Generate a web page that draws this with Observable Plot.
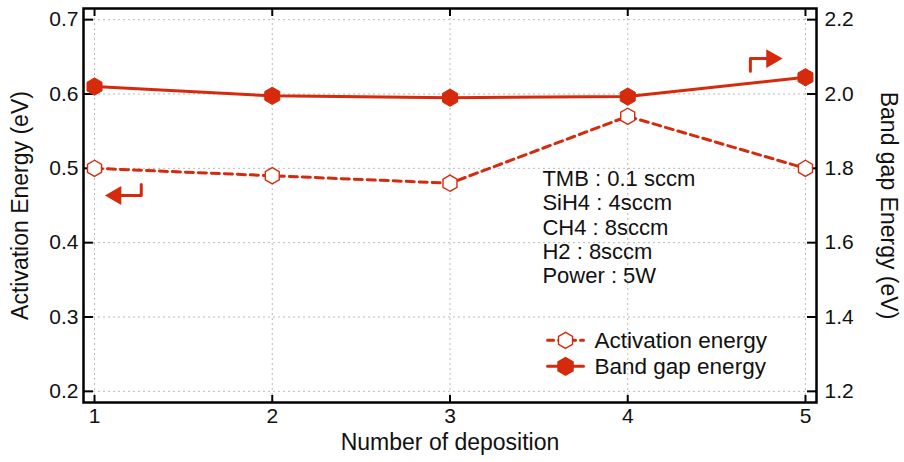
<!DOCTYPE html>
<html>
<head>
<meta charset="utf-8">
<script src="https://cdn.jsdelivr.net/npm/d3@7"></script>
<script src="https://cdn.jsdelivr.net/npm/@observablehq/plot@0.6"></script>
<style>
  html, body { margin: 0; padding: 0; background: #fff; }
  #chart svg { display: block; }
</style>
</head>
<body>
<div id="chart"></div>
<script>
// Data
const deposition = [1, 2, 3, 4, 5];
const activationEnergy = [0.50, 0.49, 0.48, 0.57, 0.50];      // eV, left axis
const bandGapEnergy = [2.020, 1.995, 1.990, 1.993, 2.045];      // eV, right axis
const leftTicks = [0.2, 0.3, 0.4, 0.5, 0.6, 0.7];
const rightTicks = [1.2, 1.4, 1.6, 1.8, 2.0, 2.2];
const conditions = ["TMB : 0.1 sccm", "SiH4 : 4sccm", "CH4 : 8sccm", "H2 : 8sccm", "Power : 5W"];
const seriesNames = ["Activation energy", "Band gap energy"];
const axisLabels = {x: "Number of deposition", yLeft: "Activation Energy (eV)", yRight: "Band gap Energy (eV)"};

// right axis (band gap) -> left axis (activation) linear mapping
const toLeft = v => 0.2 + (v - 1.2) * 0.5;
const toRight = v => 1.2 + (v - 0.2) * 2;

const red = "#d62a0c";
const font = "Liberation Sans, Arial, Helvetica, sans-serif";

const act = deposition.map((d, i) => ({x: d, y: activationEnergy[i]}));
const bg = deposition.map((d, i) => ({x: d, y: toLeft(bandGapEnergy[i])}));

// annotation placement (data space)
const noteAt = {x: 3.52, y: 0.500};
const legendX = [3.549, 3.751];
const legendDot = 3.65;
const legendTextX = 3.813;
const legendY = [0.2686, 0.2336];
const leftArrow = [{x: 1.263, y: 0.4782}, {x: 1.263, y: 0.4634}, {x: 1.13, y: 0.4634}];
const leftHead = {x: 1.12, y: 0.4634};
const rightArrow = [{x: 4.69, y: 0.6305}, {x: 4.69, y: 0.6476}, {x: 4.80, y: 0.6476}];
const rightHead = {x: 4.81, y: 0.6476};

const chart = Plot.plot({
  width: 904,
  height: 462,
  marginLeft: 83,
  marginRight: 88,
  marginTop: 8,
  marginBottom: 60,
  style: {fontFamily: font, fontSize: "21px", color: "#111", background: "#fff"},
  x: {domain: [0.938, 5.062]},
  y: {domain: [0.185, 0.715]},
  marks: [
    Plot.gridX(deposition, {stroke: "#bbb", strokeOpacity: 1, strokeDasharray: "2,3", strokeWidth: 1}),
    Plot.gridY(leftTicks, {stroke: "#bbb", strokeOpacity: 1, strokeDasharray: "2,3", strokeWidth: 1}),
    // inward ticks
    Plot.axisY(leftTicks, {anchor: "left", tickSize: 10, dx: 10, text: null, label: null, strokeWidth: 2, stroke: "#000"}),
    Plot.axisY(leftTicks, {anchor: "right", tickSize: 10, dx: -10, text: null, label: null, strokeWidth: 2, stroke: "#000"}),
    Plot.axisX(deposition, {anchor: "bottom", tickSize: 7, dy: -7, text: null, label: null, strokeWidth: 2, stroke: "#000"}),
    Plot.axisX(deposition, {anchor: "top", tickSize: 7, dy: 7, text: null, label: null, strokeWidth: 2, stroke: "#000"}),
    // tick labels
    Plot.axisY(leftTicks, {anchor: "left", tickSize: 0, tickPadding: 5, fontSize: 21, tickFormat: d3.format(".1f"), label: null}),
    Plot.axisY(leftTicks, {anchor: "right", tickSize: 0, tickPadding: 8, fontSize: 21, tickFormat: d => toRight(d).toFixed(1), label: null}),
    Plot.axisX(deposition, {anchor: "bottom", tickSize: 0, tickPadding: 6, fontSize: 21, tickFormat: d3.format("d"), label: null}),
    // axis titles
    Plot.text([axisLabels.yLeft], {frameAnchor: "left", dx: -63, rotate: -90, textAnchor: "middle", lineAnchor: "middle", text: d => d, fontSize: 23, fill: "#111"}),
    Plot.text([axisLabels.yRight], {frameAnchor: "right", dx: 72, rotate: 90, textAnchor: "middle", lineAnchor: "middle", text: d => d, fontSize: 23, fill: "#111"}),
    Plot.text([axisLabels.x], {frameAnchor: "bottom", dy: 40, textAnchor: "middle", lineAnchor: "middle", text: d => d, fontSize: 23, fill: "#111"}),
    Plot.frame({stroke: "#000", strokeWidth: 2.5}),
    // series
    Plot.line(act, {x: "x", y: "y", stroke: red, strokeWidth: 3, strokeDasharray: "8,5"}),
    Plot.line(bg, {x: "x", y: "y", stroke: red, strokeWidth: 3}),
    Plot.dot(act, {x: "x", y: "y", symbol: "hexagon", r: 7, stroke: red, strokeWidth: 1.4, fill: "#fff"}),
    Plot.dot(bg, {x: "x", y: "y", symbol: "hexagon", r: 7.5, fill: red, stroke: red, strokeWidth: 1}),
    // arrows
    Plot.line(leftArrow, {x: "x", y: "y", stroke: red, strokeWidth: 3, curve: "linear"}),
    Plot.dot([leftHead], {x: "x", y: "y", symbol: "triangle", r: 7, fill: red, rotate: -90}),
    Plot.line(rightArrow, {x: "x", y: "y", stroke: red, strokeWidth: 3, curve: "linear"}),
    Plot.dot([rightHead], {x: "x", y: "y", symbol: "triangle", r: 7, fill: red, rotate: 90}),
    // conditions text
    Plot.text([conditions.join("\n")], {x: noteAt.x, y: noteAt.y, text: d => d, textAnchor: "start", lineAnchor: "top",
      lineHeight: 1.11, fontSize: 22, fill: "#111"}),
    // legend
    Plot.line(legendX.map(x => ({x, y: legendY[0]})), {x: "x", y: "y", stroke: red, strokeWidth: 3, strokeDasharray: "6,5"}),
    Plot.dot([{x: legendDot, y: legendY[0]}], {x: "x", y: "y", symbol: "hexagon", r: 7, stroke: red, strokeWidth: 1.4, fill: "#fff"}),
    Plot.line(legendX.map(x => ({x, y: legendY[1]})), {x: "x", y: "y", stroke: red, strokeWidth: 3}),
    Plot.dot([{x: legendDot, y: legendY[1]}], {x: "x", y: "y", symbol: "hexagon", r: 7.5, fill: red, stroke: red}),
    Plot.text(seriesNames.map((s, i) => ({s, y: legendY[i]})), {x: legendTextX, y: "y", text: "s", textAnchor: "start", fontSize: 22.5, fill: "#111"})
  ]
});
document.getElementById("chart").appendChild(chart);
</script>
</body>
</html>
